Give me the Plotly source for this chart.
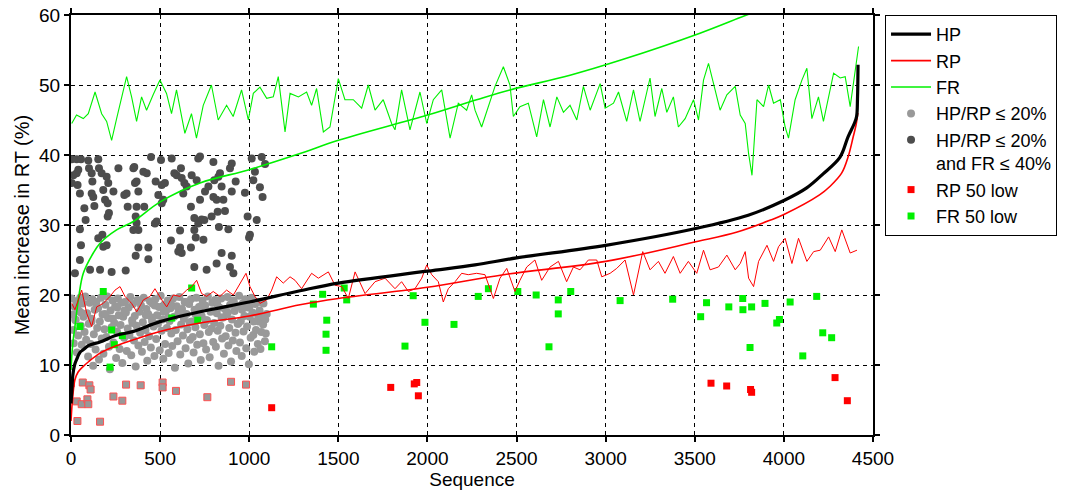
import plotly.graph_objects as go

# ---------------- data ----------------
hp_x = [0, 5, 10, 20, 35, 50, 70, 100, 163, 250, 350, 500, 724, 1000, 1285, 1500, 2000, 2267, 2500, 3000,
        3505, 3800, 4000, 4128, 4220, 4315, 4360, 4395, 4408, 4413, 4416]
hp_y = [4.5, 6.5, 8.5, 10.0, 11.0, 11.8, 12.2, 12.8, 13.3, 14.2, 14.8, 16.2, 17.6, 19.0, 20.6, 21.7, 23.4, 24.3, 25.3, 27.1,
        29.5, 31.4, 33.5, 35.3, 37.3, 39.7, 42.6, 44.5, 45.5, 48.0, 52.9]

rp_sorted_x = [0, 5, 10, 22, 40, 69, 100, 163, 250, 350, 500, 724, 1000, 1285, 1500, 2000, 2426, 3000, 3505,
               3738, 3925, 4000, 4200, 4258, 4324, 4360, 4389, 4405, 4415]
rp_sorted_y = [2.0, 4.0, 5.5, 7.9, 9.0, 9.8, 10.5, 11.7, 12.7, 13.6, 14.8, 16.0, 17.0, 18.6, 19.5, 21.1, 22.9, 24.8, 27.6,
               29.0, 30.7, 31.5, 34.3, 35.5, 37.4, 39.7, 42.6, 44.3, 46.0]

fr_sorted_x = [0, 5, 12, 22, 44, 69, 125, 163, 256, 350, 500, 724, 1000, 1285, 1500, 2000, 2276, 2463, 2800,
               3090, 3529, 3791, 4000, 4200, 4415]
fr_sorted_y = [9.3, 11.5, 13.5, 15.5, 19.8, 23.1, 26.0, 27.4, 29.3, 30.5, 33.3, 36.0, 37.9, 40.2, 42.1, 45.7, 47.9, 49.3, 51.4,
               53.6, 57.4, 60.0, 62.0, 64.0, 68.0]

rp_noisy_x = [4, 22, 60, 88, 116, 144, 181, 219, 247, 275, 303, 340, 369, 406, 443, 471, 509, 537, 574, 612,
              649, 677, 705, 733, 761, 798, 836, 873, 911, 948, 982, 1004, 1032, 1060, 1098, 1126, 1154, 1191, 1229, 1257,
              1294, 1350, 1388, 1444, 1481, 1519, 1556, 1594, 1650, 1706, 1762, 1818, 1855, 1893, 1930, 1968, 1996, 2024,
              2061, 2089, 2117, 2155, 2192, 2229, 2276, 2323, 2370, 2407, 2445, 2491, 2519, 2557, 2603, 2641, 2688, 2735,
              2781, 2819, 2856, 2903, 2950, 2978, 3025, 3062, 3109, 3156, 3208, 3249, 3296, 3333, 3380, 3418, 3464, 3511,
              3549, 3586, 3633, 3680, 3727, 3755, 3783, 3802, 3830, 3858, 3905, 3942, 3970, 4007, 4045, 4082, 4129, 4167,
              4204, 4251, 4288, 4325, 4372, 4410]
rp_noisy_y = [18.8, 17.9, 20.7, 17.4, 15.5, 18.3, 18.8, 19.8, 20.7, 21.2, 19.8, 18.8, 17.6, 19.3, 19.8, 20.9, 19.3, 18.3, 20.0, 19.8,
              20.7, 21.2, 22.1, 20.2, 19.8, 20.5, 19.8, 20.7, 20.0, 21.7, 23.1, 21.2, 19.8, 18.8, 19.3, 20.7, 22.6, 21.7, 22.6, 22.1,
              20.9, 23.1, 22.4, 23.3, 21.4, 21.2, 19.5, 23.3, 20.2, 21.9, 22.4, 20.9, 21.9, 20.5, 20.9, 22.4, 24.3, 22.9,
              21.9, 19.0, 20.9, 21.9, 23.1, 22.9, 23.1, 22.9, 19.5, 22.4, 23.8, 20.5, 22.1, 24.0, 25.0, 22.1, 24.0, 24.8,
              21.9, 24.0, 23.6, 25.0, 25.0, 22.6, 23.1, 23.8, 25.0, 20.0, 26.2, 23.6, 24.8, 23.1, 25.5, 23.1, 24.8, 23.1,
              26.4, 23.6, 24.0, 25.7, 23.6, 24.5, 26.2, 22.4, 21.2, 24.8, 27.1, 24.8, 26.9, 28.1, 24.5, 28.1, 24.8, 26.2,
              26.4, 28.3, 26.2, 29.3, 26.0, 26.4]

fr_noisy_x = [4, 31, 69, 97, 135, 172, 200, 228, 256, 284, 312, 340, 368, 396, 424, 461, 499, 536, 564, 592,
              639, 676, 704, 742, 788, 826, 873, 910, 957, 995, 1023, 1060, 1098, 1135, 1163, 1201, 1229, 1276, 1322, 1350,
              1378, 1416, 1453, 1500, 1537, 1584, 1631, 1668, 1706, 1752, 1799, 1818, 1855, 1902, 1958, 1996, 2033, 2080,
              2127, 2173, 2220, 2248, 2267, 2304, 2342, 2379, 2426, 2463, 2482, 2519, 2566, 2613, 2651, 2688, 2726, 2763,
              2800, 2838, 2875, 2913, 2969, 2997, 3044, 3072, 3118, 3156, 3193, 3249, 3277, 3315, 3343, 3380, 3408, 3446,
              3493, 3521, 3549, 3577, 3614, 3642, 3680, 3727, 3755, 3783, 3802, 3821, 3849, 3886, 3914, 3942, 3980, 4007,
              4026, 4063, 4101, 4129, 4157, 4194, 4222, 4251, 4279, 4316, 4344, 4372, 4400, 4419]
fr_noisy_y = [44.5, 45.7, 45.2, 45.9, 49.0, 45.9, 44.8, 42.1, 45.2, 48.3, 51.2, 48.3, 44.8, 48.3, 46.4, 48.6, 50.7, 48.8, 45.9, 49.3,
              43.1, 45.9, 42.4, 47.1, 50.0, 45.0, 47.1, 45.5, 49.3, 45.0, 48.8, 49.7, 48.1, 48.3, 51.2, 43.3, 48.8, 48.3, 49.0, 47.1,
              49.5, 43.3, 44.0, 50.9, 47.9, 47.9, 46.7, 50.0, 46.4, 47.9, 44.5, 43.6, 49.3, 43.6, 49.0, 44.5, 47.9, 49.3,
              42.4, 47.4, 46.4, 48.6, 46.4, 44.0, 46.9, 49.8, 52.6, 50.0, 45.5, 46.9, 47.4, 42.6, 47.9, 44.0, 48.3, 46.1,
              47.1, 45.0, 49.8, 46.4, 50.2, 46.7, 47.4, 49.0, 44.8, 49.3, 44.8, 51.0, 45.5, 49.5, 46.1, 48.3, 44.0, 45.2,
              47.9, 45.0, 50.7, 53.1, 49.3, 46.4, 48.6, 49.8, 45.7, 44.5, 40.2, 37.1, 47.9, 46.9, 50.0, 47.4, 47.9, 44.0,
              42.4, 47.9, 50.7, 52.4, 45.2, 48.3, 44.8, 48.3, 51.7, 51.0, 51.2, 46.9, 52.1, 55.5]

light_x = [3, 8, 12, 15, 20, 25, 30, 33, 40, 45, 52, 55, 60, 66, 70, 76, 80, 85, 90, 96,
           100, 105, 110, 115, 120, 124, 128, 133, 138, 142, 147, 152, 157, 162, 168, 172, 177, 182, 188, 193,
           198, 203, 208, 213, 218, 222, 228, 233, 238, 243, 248, 253, 258, 263, 268, 273, 278, 283, 288, 293,
           298, 303, 308, 313, 318, 323, 328, 333, 338, 343, 348, 353, 358, 363, 368, 373, 378, 383, 388, 393,
           398, 403, 408, 413, 418, 423, 428, 433, 438, 443, 448, 453, 458, 463, 468, 473, 478, 483, 488, 493,
           498, 503, 508, 513, 518, 523, 528, 533, 538, 543, 548, 553, 558, 563, 568, 573, 578, 583, 588, 593,
           598, 603, 608, 613, 618, 623, 628, 633, 638, 643, 648, 653, 658, 663, 668, 673, 678, 683, 688, 693,
           698, 703, 708, 713, 718, 723, 728, 733, 738, 743, 748, 753, 758, 763, 768, 773, 778, 783, 788, 793,
           798, 803, 808, 813, 818, 823, 828, 833, 838, 843, 848, 853, 858, 863, 868, 873, 878, 883, 888, 893,
           898, 903, 908, 913, 918, 923, 928, 933, 938, 943, 948, 953, 958, 963, 968, 973, 978, 983, 988, 993,
           998, 1003, 1008, 1013, 1018, 1023, 1028, 1033, 1038, 1043, 1048, 1053, 1058, 1063, 1068, 1073, 1078, 1083, 1088, 1093,
           1098, 40, 140, 260, 380, 470, 560, 640, 730, 820, 910, 1000, 1080, 55, 190, 300, 420, 520, 610, 700,
           790, 880, 960, 1050, 25, 115, 235, 345, 455, 545, 665, 755, 845, 935, 1025, 1090]
light_y = [19.5, 17.2, 15.0, 13.1, 18.3, 16.4, 19.1, 11.8, 14.2, 17.7, 19.6, 15.6, 12.9, 18.8, 16.9, 14.7, 19.8, 13.6, 17.4, 11.2,
           15.9, 18.9, 13.0, 16.6, 19.4, 9.9, 14.4, 17.9, 12.2, 19.0, 15.3, 18.1, 10.8, 16.2, 19.6, 13.8, 17.2, 11.6, 15.1, 18.6,
           14.0, 19.8, 16.7, 12.6, 9.4, 17.8, 15.4, 19.2, 13.2, 16.0, 18.4, 11.0, 14.8, 19.5, 17.1, 12.3, 15.7, 18.9, 10.3, 16.9,
           13.9, 19.0, 17.5, 12.0, 15.2, 18.2, 14.3, 19.7, 11.4, 16.4, 18.7, 13.5, 17.0, 9.8, 15.6, 19.3, 12.8, 17.6, 14.6, 18.5,
           11.9, 16.1, 19.6, 13.3, 15.0, 18.0, 10.6, 17.3, 14.1, 19.1, 12.5, 16.8, 18.8, 15.5, 11.3, 19.4, 13.7, 17.1, 15.9, 18.3,
           12.1, 19.9, 14.9, 16.5, 10.9, 18.6, 13.0, 17.7, 15.3, 19.2, 11.7, 16.3, 18.1, 14.5, 12.7, 19.5, 16.9, 9.6, 15.0, 18.4,
           13.4, 17.5, 19.7, 11.5, 15.8, 18.0, 14.2, 16.6, 19.0, 12.4, 17.3, 15.1, 10.2, 18.7, 13.6, 19.4, 16.2, 14.0, 11.8, 17.9,
           15.4, 19.6, 12.9, 16.7, 18.3, 14.4, 10.7, 17.0, 19.2, 13.1, 15.7, 18.5, 12.2, 16.4, 19.8, 14.7, 11.1, 17.6, 15.2, 18.9,
           13.3, 16.0, 19.3, 12.6, 17.4, 14.9, 9.9, 18.2, 15.6, 19.5, 13.8, 16.8, 11.6, 18.0, 14.1, 17.2, 19.7, 12.8, 15.3, 18.6,
           10.5, 16.5, 13.5, 19.1, 17.7, 14.6, 12.0, 18.4, 15.9, 19.9, 13.2, 16.3, 11.3, 18.8, 14.8, 17.0, 19.4, 12.4, 15.5, 18.2,
           10.1, 16.9, 13.9, 19.6, 17.5, 14.3, 11.9, 18.7, 15.0, 19.0, 13.0, 16.2, 17.8, 12.3, 14.7, 18.9, 15.8, 16.9, 13.4, 14.5,
           17.3, 18.6, 18.9, 18.2, 19.1, 18.5, 18.8, 19.0, 18.4, 18.7, 19.2, 18.3, 18.8, 17.5, 17.3, 17.8, 17.1, 17.6, 17.4, 17.2,
           17.7, 17.5, 17.9, 17.0, 16.5, 16.2, 16.6, 16.0, 16.3, 16.7, 16.1, 16.4, 16.8, 15.9, 16.2, 16.5]

dark_x = [4, 32, 56, 13, 32, 41, 37, 50, 97, 101, 116, 120, 116, 125, 131, 75, 82, 153, 157, 172,
          181, 191, 206, 206, 213, 200, 209, 238, 266, 299, 312, 318, 350, 355, 359, 368, 378, 368, 363, 406,
          425, 411, 449, 475, 490, 505, 509, 527, 518, 509, 481, 471, 565, 580, 593, 617, 621, 630, 636, 649,
          677, 673, 714, 724, 705, 724, 752, 771, 799, 804, 827, 836, 845, 799, 817, 855, 902, 892, 902, 924,
          976, 1023, 1032, 1070, 1089, 1060, 1075, 1014, 692, 714, 733, 748, 789, 823, 864, 830, 883, 991, 1042, 999,
          1004, 368, 378, 350, 50, 56, 50, 153, 176, 181, 200, 107, 163, 228, 307, 378, 434, 363, 434, 561,
          612, 612, 602, 621, 692, 700, 743, 673, 845, 902, 692, 817, 761, 892, 911, 22, 4]
dark_y = [39.4, 39.4, 39.4, 37.1, 37.4, 37.9, 35.7, 34.5, 39.2, 38.1, 37.4, 36.2, 34.5, 34.0, 32.7, 32.4, 30.7, 39.4, 38.1, 37.4,
          35.0, 33.6, 33.1, 31.2, 31.7, 36.9, 36.0, 34.8, 38.1, 34.3, 34.5, 32.6, 38.1, 38.3, 36.0, 36.2, 34.8, 32.6, 31.2, 37.6,
          37.4, 32.6, 39.7, 36.2, 34.3, 39.3, 35.7, 36.0, 33.6, 33.1, 30.5, 30.2, 39.5, 37.4, 37.1, 38.1, 36.7, 34.5, 36.0, 35.5,
          37.1, 32.6, 39.5, 39.8, 36.4, 33.6, 34.8, 35.5, 39.0, 36.4, 36.9, 37.4, 35.5, 34.0, 33.6, 33.6, 34.8, 38.1, 38.8, 36.2,
          34.6, 36.4, 37.6, 39.7, 38.7, 35.4, 34.0, 39.5, 31.0, 30.2, 30.8, 30.7, 31.2, 31.9, 32.0, 29.7, 29.4, 31.2, 30.7, 28.2,
          28.6, 30.3, 29.3, 29.3, 29.4, 27.1, 25.0, 28.1, 28.6, 26.9, 27.1, 23.6, 23.6, 23.3, 23.5, 26.8, 26.8, 25.6, 25.1, 27.8,
          29.2, 26.8, 26.2, 26.0, 29.3, 28.2, 27.9, 26.8, 26.0, 25.6, 24.0, 24.5, 23.6, 24.0, 23.1, 23.1, 36.0]

rp_low_gray_x = [0, 66, 103, 110, 32, 60, 92, 97, 36, 163, 238, 288, 309, 391, 514, 514, 589, 765, 898, 982]
rp_low_gray_y = [7.4, 7.5, 7.1, 6.5, 4.8, 4.4, 5.1, 4.4, 2.0, 1.9, 5.5, 4.9, 7.2, 7.1, 7.5, 6.8, 6.3, 5.4, 7.6, 7.2]

rp_low_x = [1126, 1794, 1926, 1940, 1949, 3591, 3679, 3813, 3819, 4287, 4356]
rp_low_y = [3.9, 6.8, 7.3, 7.5, 5.6, 7.4, 7.0, 6.5, 6.1, 8.2, 4.9]

fr_low_x = [181, 50, 288, 243, 219, 228, 677, 711, 565, 1126, 1360, 1412, 1435, 1431, 1431, 1533, 1547, 1874, 1920, 1986,
            2149, 2285, 2342, 2507, 2610, 2682, 2734, 2734, 2804, 3081, 3376, 3533, 3566, 3691, 3769, 3770, 3819, 3810,
            3894, 3960, 3975, 4035, 4106, 4184, 4218, 4268]
fr_low_y = [20.5, 15.5, 14.2, 12.9, 9.7, 15.0, 21.0, 16.4, 16.7, 12.6, 18.7, 20.1, 16.4, 14.4, 12.1, 21.0, 19.3, 12.7, 19.9, 16.1,
            15.8, 19.8, 20.9, 20.5, 20.0, 12.6, 19.3, 17.3, 20.5, 19.2, 19.4, 16.9, 18.9, 18.3, 19.5, 17.9, 18.3, 12.5,
            18.8, 16.0, 16.5, 19.0, 11.3, 19.8, 14.6, 13.9]

x_ticks = [0, 500, 1000, 1500, 2000, 2500, 3000, 3500, 4000, 4500]
y_ticks = [0, 10, 20, 30, 40, 50, 60]

# ---------------- figure ----------------
FONT = "Liberation Sans, Arial, sans-serif"
RED = "#ff0000"
GREEN = "#00f000"
LIGHT = "#999999"
DARK = "#4d4d4d"

fig = go.Figure()

fig.add_trace(go.Scatter(x=light_x, y=light_y, mode="markers", name="HP/RP ≤ 20%",
                         marker=dict(color=LIGHT, size=8, symbol="circle"), legendrank=4))
fig.add_trace(go.Scatter(x=dark_x, y=dark_y, mode="markers", name="HP/RP ≤ 20%<br>and FR ≤ 40%",
                         marker=dict(color=DARK, size=8, symbol="circle"), legendrank=5))
fig.add_trace(go.Scatter(x=rp_low_gray_x, y=rp_low_gray_y, mode="markers", showlegend=False,
                         marker=dict(color=LIGHT, size=7, symbol="square", line=dict(color="#ff5050", width=1))))
fig.add_trace(go.Scatter(x=rp_low_x, y=rp_low_y, mode="markers", name="RP 50 low",
                         marker=dict(color=RED, size=7, symbol="square"), legendrank=6))
fig.add_trace(go.Scatter(x=fr_low_x, y=fr_low_y, mode="markers", name="FR 50 low",
                         marker=dict(color=GREEN, size=7, symbol="square"), legendrank=7))
fig.add_trace(go.Scatter(x=fr_noisy_x, y=fr_noisy_y, mode="lines", showlegend=False,
                         line=dict(color=GREEN, width=1.1)))
fig.add_trace(go.Scatter(x=fr_sorted_x, y=fr_sorted_y, mode="lines", name="FR", line_shape="spline",
                         line=dict(color=GREEN, width=1.6), legendrank=3))
fig.add_trace(go.Scatter(x=rp_noisy_x, y=rp_noisy_y, mode="lines", showlegend=False,
                         line=dict(color=RED, width=1.0)))
fig.add_trace(go.Scatter(x=rp_sorted_x, y=rp_sorted_y, mode="lines", name="RP", line_shape="spline",
                         line=dict(color=RED, width=1.6), legendrank=2))
fig.add_trace(go.Scatter(x=hp_x, y=hp_y, mode="lines", name="HP", line_shape="spline",
                         line=dict(color="black", width=3.2), legendrank=1))

axis_common = dict(
    showline=True, linecolor="black", linewidth=2, mirror="ticks",
    ticks="outside", ticklen=5, tickwidth=1.5, tickcolor="black",
    showgrid=True, gridcolor="black", gridwidth=1, griddash="4px,4px",
    zeroline=False, automargin=False, ticklabeloverflow="allow",
    tickfont=dict(family=FONT, size=19, color="black"),
)

fig.update_xaxes(range=[0, 4500], tickvals=x_ticks, ticktext=[str(v) for v in x_ticks],
                 title=dict(text="Sequence", font=dict(family=FONT, size=19, color="black"), standoff=0),
                 **axis_common)
fig.update_yaxes(range=[0, 60], tickvals=y_ticks, ticktext=[str(v) for v in y_ticks],
                 title=dict(text="Mean increase in RT (%)", font=dict(family=FONT, size=20, color="black"), standoff=4),
                 **axis_common)

fig.update_layout(
    width=1076, height=494,
    margin=dict(l=71, r=203, t=15, b=59, autoexpand=False),
    paper_bgcolor="white", plot_bgcolor="white",
    font=dict(family=FONT, size=19, color="black"),
    legend=dict(x=1.015, y=1.0, xanchor="left", yanchor="top",
                bordercolor="black", borderwidth=1, bgcolor="white",
                font=dict(family=FONT, size=18, color="black"),
                valign="top", traceorder="normal", itemwidth=40),
)

# remove the browser's default 8px page margin so the figure sits at the window's top-left corner
fig.write_html("out.html",
               config={"displayModeBar": False},
               post_script="document.body.style.margin='0';document.body.style.overflow='hidden';")
